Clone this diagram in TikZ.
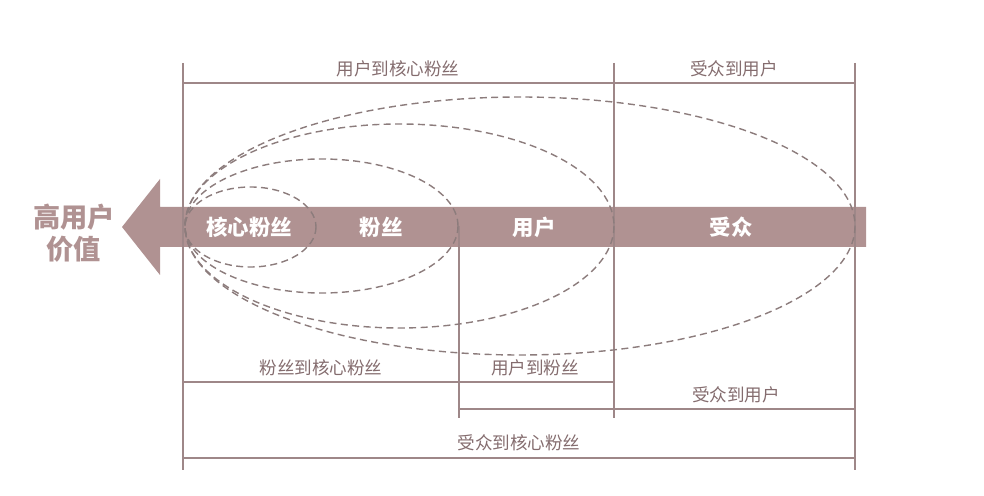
\documentclass[tikz,border=0pt]{standalone}
\usepackage{fontspec}
\setmainfont{Noto Sans CJK SC}
\definecolor{bandcol}{HTML}{B09292}
\definecolor{linecol}{HTML}{9E8788}
\definecolor{dashcol}{HTML}{8C7C7C}
\definecolor{txtcol}{HTML}{846C6E}
\tikzset{
  rule/.style={draw=linecol, line width=1.1pt},
  loop/.style={draw=dashcol, line width=0.8pt, dash pattern=on 4pt off 2.5pt},
  lab/.style={text=txtcol, font=\fontsize{10}{12}\selectfont, inner sep=0pt},
  bandlab/.style={text=white, font=\fontsize{12.2}{14}\selectfont\bfseries, inner sep=0pt}
}
\begin{document}
\begin{tikzpicture}[x=0.02cm, y=-0.02cm]
	\useasboundingbox (0,0) rectangle (984,496);

	% the band with its arrow head
	\fill [bandcol] (866,207) -- (160,207) -- (160,179) -- (122,227)
		-- (160,275) -- (160,247) -- (866,247) -- cycle;

	% vertical rules
	\draw [rule] (183,63) -- (183,470);
	\draw [rule] (855,63) -- (855,470);
	\draw [rule] (614,63) -- (614,418);
	\draw [rule] (459,226) -- (459,418);

	% horizontal rules
	\draw [rule] (183,83) -- (855,83);
	\draw [rule] (183,382) -- (614,382);
	\draw [rule] (459,409) -- (855,409);
	\draw [rule] (183,458) -- (855,458);

	% dashed rings
	\draw [loop] (250.5,227) ellipse (65.5 and 40);
	\draw [loop] (321.5,226) ellipse (136.5 and 67);
	\draw [loop] (399.5,226) ellipse (214.5 and 102);
	\draw [loop] (520,226) ellipse (335 and 129);

	\node (hv) [text=bandcol, font=\fontsize{15.5}{18.5}\selectfont\bfseries, align=center, inner sep=0pt] at (74,233) {高用户\\价值};

	\node (core) [bandlab] at (249,227) {核心粉丝};
	\node (fans) [bandlab] at (381,227) {粉丝};
	\node (users) [bandlab] at (534,227) {用户};
	\node (aud) [bandlab] at (731,227) {受众};

	\node (t1) [lab] at (398,69) {用户到核心粉丝};
	\node (t2) [lab] at (734,69) {受众到用户};
	\node (b1) [lab] at (321,368) {粉丝到核心粉丝};
	\node (b2) [lab] at (535,368) {用户到粉丝};
	\node (b3) [lab] at (736,395) {受众到用户};
	\node (b4) [lab] at (519,443) {受众到核心粉丝};
\end{tikzpicture}
\end{document}
